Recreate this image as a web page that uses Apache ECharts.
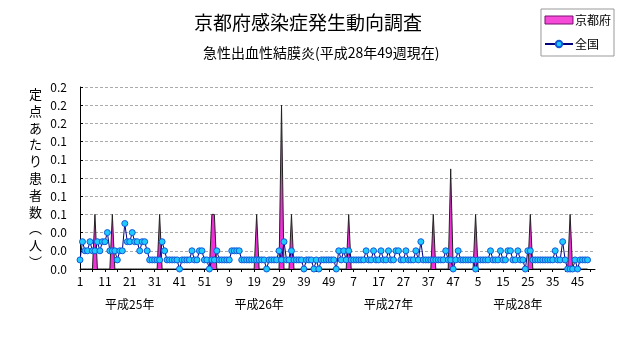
<!DOCTYPE html>
<html><head><meta charset="utf-8">
<script src="https://cdn.jsdelivr.net/npm/echarts@6/dist/echarts.min.js"></script>
<style>html,body{margin:0;padding:0;background:#fff}#c{width:631px;height:347px}</style>
</head><body><div id="c"></div>
<script>
// ---- data ----
const yearNames = ['平成25年', '平成26年', '平成27年', '平成28年'];
const weeksPerYear = [52, 52, 52, 52];
const yTicks = { min: 0, max: 0.2, interval: 0.02 };

const zenkokuH25 = [0.01,0.03,0.02,0.02,0.03,0.02,0.02,0.03,0.02,0.03,
  0.03,0.04,0.02,0.02,0.02,0.01,0.02,0.02,0.05,0.03,
  0.03,0.04,0.03,0.03,0.02,0.03,0.03,0.02,0.01,0.01,
  0.01,0.01,0.01,0.03,0.02,0.01,0.01,0.01,0.01,0.01,
  0,0.01,0.01,0.01,0.01,0.02,0.01,0.01,0.02,0.02,
  0.01,0.01];
const zenkokuH26 = [0,0.01,0.01,0.02,0.01,0.01,0.01,0.01,0.01,0.02,
  0.02,0.02,0.02,0.01,0.01,0.01,0.01,0.01,0.01,0.01,
  0.01,0.01,0.01,0,0.01,0.01,0.01,0.01,0.02,0.01,
  0.03,0.01,0.01,0.02,0.01,0.01,0.01,0.01,0,0.01,
  0.01,0.01,0,0.01,0,0.01,0.01,0.01,0.01,0.01,
  0.01,0];
const zenkokuH27 = [0.02,0.01,0.02,0.01,0.02,0.01,0.01,0.01,0.01,0.01,
  0.01,0.02,0.01,0.01,0.02,0.01,0.01,0.02,0.01,0.01,
  0.02,0.01,0.01,0.02,0.02,0.01,0.01,0.02,0.01,0.01,
  0.01,0.02,0.01,0.03,0.01,0.01,0.01,0.01,0.01,0.01,
  0.01,0.01,0.01,0.02,0.01,0.01,0,0.01,0.02,0.01,
  0.01,0.01];
const zenkokuH28 = [0.01,0.01,0.01,0,0.01,0.01,0.01,0.01,0.01,0.02,
  0.01,0.01,0.01,0.02,0.01,0.01,0.02,0.02,0.01,0.01,
  0.02,0.01,0.01,0,0.02,0.02,0.01,0.01,0.01,0.01,
  0.01,0.01,0.01,0.01,0.01,0.02,0.01,0.01,0.03,0.01,
  0,0,0,0.01,0,0.01,0.01,0.01,0.01];

const kyotoH25 = [0,0,0,0,0,0,0.06,0,0,0,
  0,0,0,0.06,0,0,0,0,0,0,
  0,0,0,0,0,0,0,0,0,0,
  0,0,0.06,0,0,0,0,0,0,0,
  0,0,0,0,0,0,0,0,0,0,
  0,0];
const kyotoH26 = [0,0.06,0.06,0,0,0,0,0,0,0,
  0,0,0,0,0,0,0,0,0,0.06,
  0,0,0,0,0,0,0,0,0,0.18,
  0,0,0,0.06,0,0,0,0,0,0,
  0,0,0,0,0,0,0,0,0,0,
  0,0];
const kyotoH27 = [0,0,0,0,0.06,0,0,0,0,0,
  0,0,0,0,0,0,0,0,0,0,
  0,0,0,0,0,0,0,0,0,0,
  0,0,0,0,0,0,0,0,0.06,0,
  0,0,0,0,0,0.11,0,0,0,0,
  0,0];
const kyotoH28 = [0,0,0,0.06,0,0,0,0,0,0,
  0,0,0,0,0,0,0,0,0,0,
  0,0,0,0,0,0.06,0,0,0,0,
  0,0,0,0,0,0,0,0,0,0,
  0,0.06,0,0,0,0,0,0,0];

// ---- build ----
const weekCats = [], yearCats = [];
weeksPerYear.forEach((n, y) => { for (let w = 1; w <= n; w++) { weekCats.push(String(w)); yearCats.push(yearNames[y]); } });
const zenkoku = [].concat(zenkokuH25, zenkokuH26, zenkokuH27, zenkokuH28);
const kyoto = [].concat(kyotoH25, kyotoH26, kyotoH27, kyotoH28);

const FONT = '"Noto Sans CJK JP", "Noto Sans", sans-serif';
const chart = echarts.init(document.getElementById('c'), null, { renderer: 'canvas' });
chart.setOption({
  animation: false,
  textStyle: { fontFamily: FONT, color: '#000' },
  title: [
    { text: '京都府感染症発生動向調査', left: 189, top: 8, textStyle: { fontSize: 19, fontWeight: 'normal', color: '#000', fontFamily: FONT } },
    { text: '急性出血性結膜炎(平成28年49週現在)', left: 198, top: 41, textStyle: { fontSize: 14, fontWeight: 'normal', color: '#000', fontFamily: FONT } }
  ],
  legend: {
    orient: 'vertical', right: 17, top: 9,
    borderColor: '#999', borderWidth: 1, padding: [5, 3, 6, 3],
    itemGap: 12, itemWidth: 28, itemHeight: 8, itemTextStyle: {},
    textStyle: { fontSize: 12, color: '#000', fontFamily: FONT, padding: [0, 0, 0, -3] },
    data: [
      { name: '京都府', icon: 'rect', itemStyle: { color: '#F54BD8', borderColor: '#7a1070', borderWidth: 1 } },
      { name: '全国' }
    ]
  },
  grid: { left: 80, right: 36, top: 87, bottom: 78 },
  xAxis: [
    {
      type: 'category', data: weekCats, boundaryGap: false,
      axisLine: { lineStyle: { color: '#000', width: 1 } },
      axisTick: { interval: 4, length: 3, lineStyle: { color: '#000' } },
      axisLabel: { interval: 9, margin: 6, fontSize: 12, color: '#000', fontFamily: FONT },
      splitLine: { show: false }
    },
    {
      type: 'category', data: yearCats, boundaryGap: false, position: 'bottom',
      axisLine: { show: false }, axisTick: { show: false },
      axisLabel: { interval: (i) => i % 52 === 20, margin: 29, fontSize: 12, color: '#000', fontFamily: FONT },
      splitLine: { show: false }
    }
  ],
  yAxis: {
    type: 'value', min: yTicks.min, max: yTicks.max, interval: yTicks.interval,
    name: '定点あたり患者数︵人︶'.split('').join('\n'),
    nameLocation: 'middle', nameRotate: 0, nameGap: 38,
    nameTextStyle: { fontSize: 13, lineHeight: 16.8, color: '#000', fontFamily: FONT },
    axisLine: { show: true, lineStyle: { color: '#000', width: 1 } },
    axisTick: { show: true, inside: true, length: 3, lineStyle: { color: '#000' } },
    axisLabel: { formatter: (v) => v.toFixed(1), margin: 13, fontSize: 12, color: '#000', fontFamily: FONT },
    splitLine: { show: true, lineStyle: { color: '#aaa', type: [3, 2], width: 1 } }
  },
  series: [
    {
      name: '京都府', type: 'line', data: kyoto, xAxisIndex: 0,
      symbol: 'none', z: 2,
      lineStyle: { color: '#222', width: 1 },
      itemStyle: { color: '#F54BD8' },
      areaStyle: { color: '#F030D8', opacity: 1 }
    },
    {
      name: '全国', type: 'line', data: zenkoku, xAxisIndex: 0,
      symbol: 'circle', symbolSize: 6, showAllSymbol: true, z: 3,
      lineStyle: { color: '#000080', width: 1 },
      itemStyle: { color: '#1ECBFF', borderColor: '#1458D8', borderWidth: 1 }
    }
  ]
});
</script></body></html>
